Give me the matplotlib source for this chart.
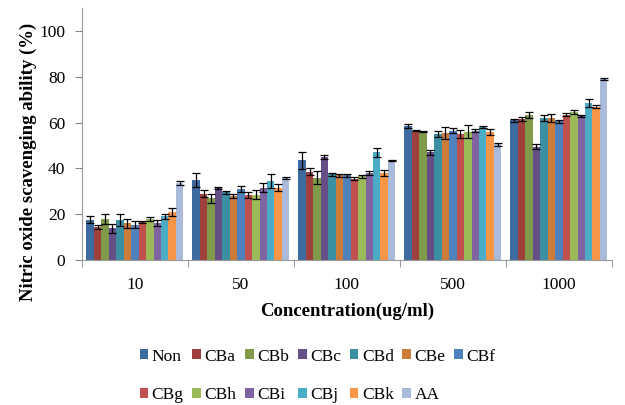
import numpy as np
import matplotlib
matplotlib.use("Agg")
import matplotlib.pyplot as plt

plt.rcParams["font.family"] = ["Liberation Serif", "DejaVu Serif"]

concentrations = ["10", "50", "100", "500", "1000"]
series = ["Non", "CBa", "CBb", "CBc", "CBd", "CBe", "CBf",
          "CBg", "CBh", "CBi", "CBj", "CBk", "AA"]
colors = ["#3E6B9F", "#A0403D", "#7F9A48", "#664E86", "#3A8FA3", "#CD7B38",
          "#4F81BD", "#C0504D", "#9BBB59", "#8064A2", "#4BACC6", "#F79646",
          "#A9BADB"]

# mean values per series, one per concentration
means = {
    "Non": [17.5, 35.0, 43.5, 58.5, 61.0],
    "CBa": [14.5, 29.0, 38.5, 56.5, 61.5],
    "CBb": [18.0, 27.0, 36.0, 56.0, 63.5],
    "CBc": [13.8, 31.5, 45.0, 47.0, 49.5],
    "CBd": [17.5, 29.5, 37.5, 55.0, 62.0],
    "CBe": [16.0, 28.0, 37.0, 55.5, 62.0],
    "CBf": [15.5, 31.0, 37.0, 56.5, 60.5],
    "CBg": [16.5, 28.5, 35.5, 55.0, 63.5],
    "CBh": [18.0, 28.5, 36.5, 56.0, 64.5],
    "CBi": [16.0, 31.5, 38.0, 56.5, 63.0],
    "CBj": [19.0, 34.5, 47.0, 58.0, 68.5],
    "CBk": [21.0, 31.5, 38.0, 56.0, 67.0],
    "AA":  [33.5, 35.8, 43.5, 50.5, 79.0],
}
errors = {
    "Non": [1.5, 3.0, 3.8, 0.8, 0.7],
    "CBa": [1.0, 1.7, 1.5, 0.3, 1.0],
    "CBb": [2.2, 2.0, 2.7, 0.3, 1.3],
    "CBc": [1.8, 0.5, 1.0, 1.0, 1.0],
    "CBd": [2.5, 0.8, 0.6, 1.2, 1.2],
    "CBe": [2.0, 1.0, 0.6, 2.5, 1.8],
    "CBf": [1.5, 1.5, 0.6, 1.0, 0.8],
    "CBg": [0.5, 1.3, 0.6, 1.7, 0.5],
    "CBh": [0.8, 2.0, 0.7, 2.8, 0.8],
    "CBi": [1.3, 2.0, 1.0, 0.8, 0.5],
    "CBj": [1.3, 3.0, 2.0, 0.5, 1.6],
    "CBk": [1.7, 1.5, 1.3, 1.2, 0.6],
    "AA":  [0.8, 0.5, 0.2, 0.6, 0.3],
}

fig = plt.figure(figsize=(6.25, 4.05), dpi=100)
ax = fig.add_axes([0.131, 0.358, 0.848, 0.622])

n = len(series)
x = np.arange(len(concentrations))
width = 1.0 / (n + 1.2)
handles = []
for i, name in enumerate(series):
    pos = x - 0.5 + 0.6 * width + (i + 0.5) * width
    h = ax.bar(pos, means[name], width, color=colors[i], label=name, zorder=2)
    handles.append(h)
    ax.errorbar(pos, means[name], yerr=errors[name], fmt="none", ecolor="black",
                elinewidth=0.9, capsize=2.6, capthick=0.9, zorder=3)

ax.set_xlim(-0.5, len(concentrations) - 0.5)
ax.set_ylim(0, 110)
ax.set_yticks([0, 20, 40, 60, 80, 100])
ax.set_xticks(x)
ax.set_xticklabels(concentrations)
ax.set_xticks(np.arange(len(concentrations) + 1) - 0.5, minor=True)
ax.tick_params(axis="x", which="major", length=0, pad=12, labelsize=12.5)
ax.tick_params(axis="x", which="minor", length=5, color="#888888")
ax.tick_params(axis="y", length=5, color="#888888", labelsize=12.5, pad=7)
for side in ["top", "right"]:
    ax.spines[side].set_visible(False)
for side in ["left", "bottom"]:
    ax.spines[side].set_color("#999999")

ax.set_xlabel("Concentration(ug/ml)", fontweight="bold", fontsize=13.5, labelpad=7)
fig.text(0.046, 0.6, "Nitric oxide scavenging ability (%)", rotation=90,
         ha="center", va="center", fontweight="bold", fontsize=13.5)

# legend fills column by column, so reorder to read row by row (7 per row)
ncol = 7
order = []
for c in range(ncol):
    for r in range(2):
        k = r * ncol + c
        if k < n:
            order.append(k)
fig.legend([handles[k] for k in order], [series[k] for k in order],
           loc="center", bbox_to_anchor=(0.508, 0.072), ncol=ncol, frameon=False,
           fontsize=12.5, handlelength=0.5, handleheight=0.5, handletextpad=0.2,
           columnspacing=0.5, labelspacing=1.3)

fig.savefig("out.png", dpi=100)
